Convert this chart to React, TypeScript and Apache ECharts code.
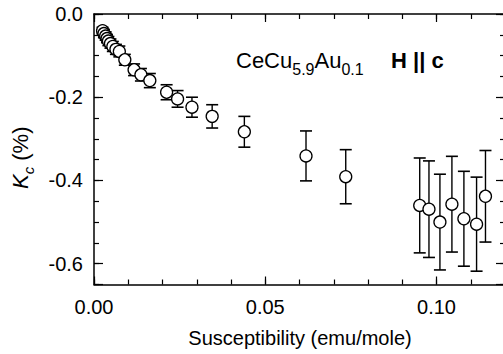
import React, { useEffect, useRef } from 'react';
import * as echarts from 'echarts';

// Susceptibility (emu/mole)
const susceptibility = [
  0.0025, 0.0029, 0.0034, 0.0038, 0.0042, 0.0048, 0.0055, 0.0064, 0.0074, 0.009,
  0.0117, 0.0137, 0.0163, 0.0212, 0.0244, 0.0286, 0.0345, 0.0439, 0.0619, 0.0735,
  0.0951, 0.0978, 0.101, 0.1045, 0.108, 0.1117, 0.1143,
];
// Kc (%)
const knightShift = [
  -0.04, -0.047, -0.053, -0.059, -0.065, -0.071, -0.078, -0.085, -0.09, -0.11,
  -0.134, -0.146, -0.16, -0.188, -0.204, -0.224, -0.246, -0.283, -0.341, -0.391,
  -0.46, -0.469, -0.5, -0.457, -0.492, -0.505, -0.438,
];
// error bar half-lengths
const shiftError = [
  0.008, 0.01, 0.01, 0.01, 0.011, 0.011, 0.012, 0.012, 0.013, 0.013,
  0.014, 0.015, 0.017, 0.018, 0.02, 0.024, 0.028, 0.037, 0.06, 0.065,
  0.114, 0.116, 0.115, 0.115, 0.114, 0.113, 0.11,
];
const xTickLabels = ['0.00', '0.05', '0.10'];
const yTickLabels = ['0.0', '-0.2', '-0.4', '-0.6'];

const FONT = "'Liberation Sans', Arial, Helvetica, sans-serif";

function measure(text: string, font: string): number {
  const ctx = document.createElement('canvas').getContext('2d')!;
  ctx.font = font;
  return ctx.measureText(text).width;
}

export default function App() {
  const ref = useRef<HTMLDivElement>(null);
  useEffect(() => {
    const chart = echarts.init(ref.current!, null, { renderer: 'svg' });
    const data = susceptibility.map((x, i) => [x, knightShift[i], shiftError[i]]);

    const axisLineStyle = { color: '#000', width: 1.5 };
    const tickStyle = { color: '#000', width: 1.2 };
    const xBase = { type: 'value', min: 0, max: 0.12, splitLine: { show: false } };
    const yMinor = { type: 'value', min: -0.65, max: 0, interval: 0.05, splitLine: { show: false } };
    const yMajor = { type: 'value', min: 0, max: 0.65, inverse: true, interval: 0.2, splitLine: { show: false } };

    const xFormatter = (v: number) => {
      const i = Math.round(v / 0.05);
      if (Math.abs(v - i * 0.05) > 1e-6) return '';
      return xTickLabels[i] ?? '';
    };
    const yFormatter = (v: number) => {
      const i = Math.round(v / 0.2);
      if (Math.abs(v - i * 0.2) > 1e-6) return '';
      return yTickLabels[i] ?? '';
    };

    // Title text pieces
    const mainSize = 22;
    const subSize = 16;
    const mainFont = `${mainSize}px ${FONT}`;
    const subFont = `${subSize}px ${FONT}`;
    const titleParts = [
      { t: 'CeCu', sub: false },
      { t: '5.9', sub: true },
      { t: 'Au', sub: false },
      { t: '0.1', sub: true },
    ];
    let tx = 236;
    const baseY = 68;
    const titleChildren: any[] = [];
    titleParts.forEach((p) => {
      const size = p.sub ? subSize : mainSize;
      const by = p.sub ? baseY + 7 : baseY;
      titleChildren.push({
        type: 'text',
        x: tx,
        y: by - size * 0.33,
        style: {
          text: p.t,
          font: p.sub ? subFont : mainFont,
          fill: '#000',
          textAlign: 'left',
          textVerticalAlign: 'middle',
        },
      });
      tx += measure(p.t, p.sub ? subFont : mainFont);
    });

    // Y axis title: K_c (%)
    const kSize = 22;
    const cSize = 15;
    const kFont = `italic ${kSize}px ${FONT}`;
    const cFont = `italic ${cSize}px ${FONT}`;
    const pFont = `${kSize}px ${FONT}`;
    const wK = measure('K', kFont);
    const wC = measure('c', cFont);

    const option: any = {
      animation: false,
      backgroundColor: '#fff',
      grid: { left: 94, top: 14, width: 411, height: 270.5, containLabel: false, outerBoundsMode: 'none' },
      xAxis: [
        {
          ...xBase, position: 'bottom', interval: 0.05,
          axisLine: { show: true, onZero: false, lineStyle: axisLineStyle },
          axisTick: { show: true, inside: true, length: 8, lineStyle: tickStyle },
          axisLabel: { show: true, margin: 12, fontSize: 20, color: '#000', fontFamily: FONT, showMaxLabel: false, formatter: xFormatter },
        },
        {
          ...xBase, position: 'bottom', interval: 0.01,
          axisLine: { show: false, onZero: false },
          axisTick: { show: true, inside: true, length: 5, lineStyle: tickStyle },
          axisLabel: { show: false },
        },
        {
          ...xBase, position: 'top', interval: 0.05,
          axisLine: { show: true, onZero: false, lineStyle: axisLineStyle },
          axisTick: { show: true, inside: true, length: 8, lineStyle: tickStyle },
          axisLabel: { show: false },
        },
        {
          ...xBase, position: 'top', interval: 0.01,
          axisLine: { show: false, onZero: false },
          axisTick: { show: true, inside: true, length: 5, lineStyle: tickStyle },
          axisLabel: { show: false },
        },
      ],
      yAxis: [
        {
          ...yMinor, position: 'left',
          axisLine: { show: true, onZero: false, lineStyle: axisLineStyle },
          axisTick: { show: true, inside: true, length: 5, lineStyle: tickStyle },
          axisLabel: { show: false },
        },
        {
          ...yMajor, position: 'left',
          axisLine: { show: false, onZero: false },
          axisTick: { show: true, inside: true, length: 9, lineStyle: tickStyle },
          axisLabel: { show: true, margin: 11, fontSize: 20, color: '#000', fontFamily: FONT, formatter: yFormatter },
        },
        {
          ...yMinor, position: 'right',
          axisLine: { show: true, onZero: false, lineStyle: axisLineStyle },
          axisTick: { show: true, inside: true, length: 5, lineStyle: tickStyle },
          axisLabel: { show: false },
        },
        {
          ...yMajor, position: 'right',
          axisLine: { show: false, onZero: false },
          axisTick: { show: true, inside: true, length: 9, lineStyle: tickStyle },
          axisLabel: { show: false },
        },
      ],
      series: [
        {
          type: 'custom',
          xAxisIndex: 0,
          yAxisIndex: 0,
          data,
          encode: { x: 0, y: 1 },
          z: 2,
          renderItem: (params: any, api: any) => {
            const x = api.value(0);
            const y = api.value(1);
            const e = api.value(2);
            const top = api.coord([x, y + e]);
            const bot = api.coord([x, y - e]);
            const hw = 6;
            const st = { stroke: '#000', lineWidth: 1.4 };
            return {
              type: 'group',
              children: [
                { type: 'line', shape: { x1: top[0], y1: top[1], x2: bot[0], y2: bot[1] }, style: st },
                { type: 'line', shape: { x1: top[0] - hw, y1: top[1], x2: top[0] + hw, y2: top[1] }, style: { ...st, lineWidth: 1.6 } },
                { type: 'line', shape: { x1: bot[0] - hw, y1: bot[1], x2: bot[0] + hw, y2: bot[1] }, style: { ...st, lineWidth: 1.6 } },
              ],
            };
          },
        },
        {
          type: 'scatter',
          xAxisIndex: 0,
          yAxisIndex: 0,
          data: data.map((d) => [d[0], d[1]]),
          symbol: 'circle',
          symbolSize: 12,
          z: 3,
          itemStyle: { color: '#fff', borderColor: '#000', borderWidth: 1.3, opacity: 1 },
        },
      ],
      graphic: [
        ...titleChildren,
        {
          type: 'text',
          x: 391,
          y: baseY - mainSize * 0.33,
          style: { text: 'H || c', font: `bold ${mainSize}px ${FONT}`, fill: '#000', textAlign: 'left', textVerticalAlign: 'middle' },
        },
        {
          type: 'text',
          x: 300,
          y: 338,
          style: { text: 'Susceptibility (emu/mole)', font: `20px ${FONT}`, fill: '#000', textAlign: 'center', textVerticalAlign: 'middle' },
        },
        {
          type: 'group',
          x: 28,
          y: 189,
          rotation: Math.PI / 2,
          children: [
            { type: 'text', x: 0, y: -kSize * 0.33, style: { text: 'K', font: kFont, fill: '#000', textAlign: 'left', textVerticalAlign: 'middle' } },
            { type: 'text', x: wK, y: 5 - cSize * 0.33, style: { text: 'c', font: cFont, fill: '#000', textAlign: 'left', textVerticalAlign: 'middle' } },
            { type: 'text', x: wK + wC, y: -kSize * 0.33, style: { text: ' (%)', font: pFont, fill: '#000', textAlign: 'left', textVerticalAlign: 'middle' } },
          ],
        },
      ],
    };
    chart.setOption(option);
    return () => chart.dispose();
  }, []);
  return (
    <div
      ref={ref}
      style={{ position: 'fixed', left: 0, top: 0, width: 503, height: 354, background: '#fff' }}
    />
  );
}
